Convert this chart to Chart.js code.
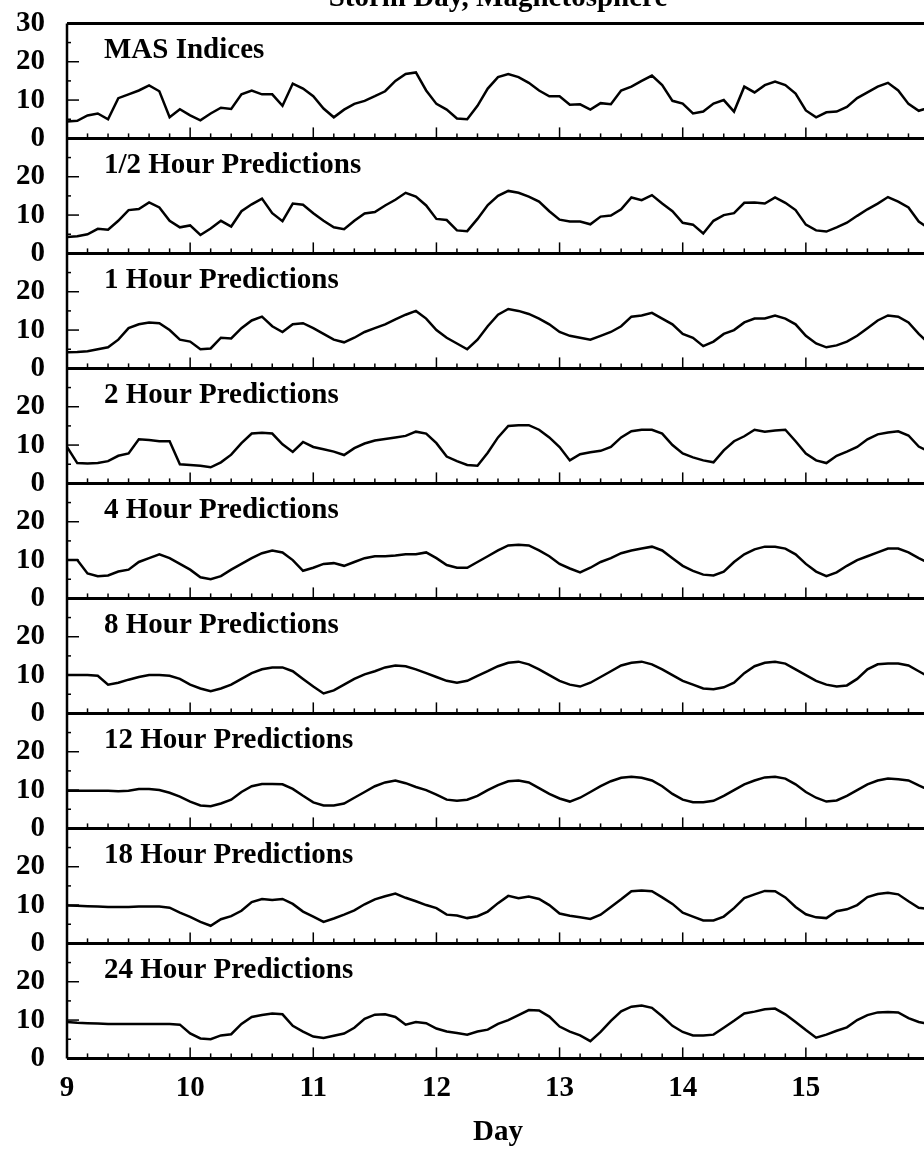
<!DOCTYPE html>
<html>
<head>
<meta charset="utf-8">
<script src="https://cdn.jsdelivr.net/npm/chart.js@4.4.1/dist/chart.umd.min.js"></script>
<style>
  html, body { margin: 0; padding: 0; background: #fff; overflow: hidden; }
  canvas { display: block; margin-top: -16px; }
</style>
</head>
<body>
<canvas id="chart" width="942" height="1167"></canvas>
<script>
// sampling grid: one reading every 2 hours from day 9 to day 16
const days = Array.from({ length: 85 }, (_, i) => 9 + i / 12);

const titleText = 'Storm Day, Magnetosphere';

const panelNames = [
  'MAS Indices', '1/2 Hour Predictions', '1 Hour Predictions', '2 Hour Predictions',
  '4 Hour Predictions', '8 Hour Predictions', '12 Hour Predictions',
  '18 Hour Predictions', '24 Hour Predictions'
];

const yTicksTop = [0, 10, 20, 30];
const yTicks = [0, 10, 20];

const mas = [
  4.4, 4.6, 6.0, 6.5, 5.0, 10.5, 11.5, 12.5, 13.8, 12.3,
  5.5, 7.6, 6.0, 4.7, 6.5, 8.0, 7.7, 11.5, 12.5, 11.5,
  11.5, 8.5, 14.3, 13.0, 11.0, 7.8, 5.5, 7.5, 9.0, 9.8,
  11.0, 12.3, 15.0, 16.8, 17.2, 12.5, 9.0, 7.5, 5.2, 5.0,
  8.5, 13.0, 16.0, 16.8, 16.0, 14.5, 12.5, 11.0, 11.0, 8.8,
  8.9, 7.5, 9.2, 8.9, 12.5, 13.5, 15.0, 16.4, 13.9, 9.8,
  9.1, 6.5, 7.0, 9.1, 10.0, 7.0, 13.5, 12.0, 13.9, 14.8,
  13.9, 11.7, 7.3, 5.5, 6.8, 7.0, 8.2, 10.5, 12.0, 13.5,
  14.5, 12.5, 9.0, 7.2, 8.0
];
const pred05 = [
  4.3, 4.5, 5.0, 6.4, 6.2, 8.5, 11.3, 11.6, 13.3, 12.0,
  8.5, 6.8, 7.3, 4.8, 6.5, 8.5, 7.0, 11.0, 12.8, 14.3,
  10.5, 8.4, 13.0, 12.7, 10.5, 8.5, 6.8, 6.3, 8.5, 10.4,
  10.8, 12.5, 14.0, 15.8, 14.8, 12.5, 9.0, 8.7, 6.0, 5.8,
  9.0, 12.6, 15.0, 16.3, 15.8, 14.8, 13.5, 11.0, 8.8, 8.3,
  8.3, 7.6, 9.6, 9.9, 11.5, 14.6, 13.9, 15.2, 13.0, 11.0,
  8.0, 7.5, 5.2, 8.5, 10.0, 10.5, 13.2, 13.3, 13.0, 14.6,
  13.2, 11.3, 7.5, 6.0, 5.7, 6.8, 8.0, 9.8, 11.5, 13.0,
  14.7, 13.5, 12.0, 8.3, 6.5
];
const pred1 = [
  4.2, 4.3, 4.5, 5.0, 5.5, 7.5, 10.5, 11.5, 12.0, 11.8,
  10.0, 7.5, 7.0, 5.0, 5.2, 8.0, 7.8, 10.5, 12.5, 13.5,
  11.0, 9.5, 11.5, 11.8, 10.5, 9.0, 7.5, 6.8, 8.0, 9.5,
  10.5, 11.5, 12.8, 14.0, 15.0, 13.0, 10.0, 8.0, 6.5, 5.0,
  7.5, 11.0, 14.0, 15.5, 15.0, 14.2, 13.0, 11.5, 9.5, 8.5,
  8.0, 7.5, 8.5, 9.5, 11.0, 13.5, 13.8, 14.5, 13.0, 11.5,
  9.0, 8.0, 5.8, 7.0, 9.0, 10.0, 12.0, 13.0, 13.0, 13.8,
  13.0, 11.5, 8.5, 6.5, 5.5, 6.0, 7.0, 8.5, 10.5, 12.5,
  13.8, 13.5, 12.0, 9.0, 6.5
];
const pred2 = [
  9.5, 5.3, 5.2, 5.3, 5.8, 7.2, 7.8, 11.5, 11.3, 11.0,
  11.0, 5.0, 4.8, 4.6, 4.2, 5.5, 7.5, 10.5, 13.0, 13.2,
  13.0, 10.2, 8.2, 10.8, 9.5, 8.9, 8.3, 7.4, 9.2, 10.4,
  11.2, 11.6, 12.0, 12.4, 13.5, 13.0, 10.5, 7.0, 5.8, 4.8,
  4.6, 8.0, 12.0, 15.0, 15.2, 15.2, 14.0, 12.0, 9.5, 6.0,
  7.6, 8.1, 8.5, 9.5, 12.0, 13.6, 14.0, 14.0, 13.0, 10.0,
  7.8, 6.8, 6.0, 5.5, 8.6, 11.0, 12.3, 14.0, 13.5, 13.8,
  14.0, 11.0, 7.8, 6.0, 5.3, 7.2, 8.3, 9.5, 11.5, 12.8,
  13.3, 13.6, 12.5, 9.6, 8.3
];
const pred4 = [
  10.0, 10.0, 6.5, 5.8, 6.0, 7.0, 7.5, 9.5, 10.5, 11.5,
  10.5, 9.0, 7.5, 5.5, 5.0, 5.8, 7.5, 9.0, 10.5, 11.8,
  12.5, 12.0, 10.0, 7.2, 8.0, 9.0, 9.2, 8.5, 9.5, 10.5,
  11.0, 11.0, 11.2, 11.5, 11.5, 12.0, 10.5, 8.7, 8.0, 8.0,
  9.5, 11.0, 12.5, 13.8, 14.0, 13.8, 12.5, 11.0, 9.0, 7.8,
  6.8, 8.0, 9.5, 10.5, 11.8, 12.5, 13.0, 13.5, 12.5, 10.5,
  8.5, 7.2, 6.2, 6.0, 7.0, 9.5, 11.5, 12.8, 13.5, 13.5,
  13.0, 11.5, 9.0, 7.0, 5.8, 6.8, 8.5, 10.0, 11.0, 12.0,
  13.0, 13.0, 12.0, 10.5, 9.2
];
const pred8 = [
  10.0, 10.0, 10.0, 9.8, 7.5, 8.0, 8.8, 9.5, 10.0, 10.0,
  9.8, 9.0, 7.5, 6.5, 5.8, 6.5, 7.5, 9.0, 10.5, 11.5,
  12.0, 12.0, 11.0, 9.0, 7.0, 5.2, 6.0, 7.5, 9.0, 10.2,
  11.0, 12.0, 12.5, 12.3, 11.5, 10.5, 9.5, 8.5, 8.0, 8.5,
  9.8, 11.0, 12.3, 13.2, 13.5, 12.8, 11.5, 10.0, 8.5, 7.5,
  7.0, 8.0, 9.5, 11.0, 12.5, 13.2, 13.5, 12.8, 11.5, 10.0,
  8.5, 7.5, 6.5, 6.3, 6.8, 8.0, 10.5, 12.3, 13.2, 13.5,
  13.0, 11.5, 10.0, 8.5, 7.5, 7.0, 7.3, 9.0, 11.5, 12.8,
  13.0, 13.0, 12.5, 11.0, 9.5
];
const pred12 = [
  9.8, 9.8, 9.8, 9.8, 9.8, 9.7, 9.8, 10.3, 10.3, 10.0,
  9.3, 8.3, 7.0, 6.0, 5.8, 6.5, 7.5, 9.5, 11.0, 11.6,
  11.6, 11.5, 10.3, 8.5, 6.8, 6.0, 6.0, 6.5, 8.0, 9.5,
  11.0, 12.0, 12.5, 11.8, 10.8, 10.0, 8.8, 7.5, 7.2, 7.5,
  8.5, 10.0, 11.3, 12.3, 12.5, 12.0, 10.5, 9.0, 7.8, 7.0,
  8.0, 9.5, 11.0, 12.3, 13.2, 13.5, 13.2, 12.5, 11.0, 9.0,
  7.5, 6.8, 6.8, 7.2, 8.5, 10.0, 11.5, 12.5, 13.3, 13.5,
  13.0, 11.5, 9.5, 8.0, 7.0, 7.3, 8.5, 10.0, 11.5, 12.5,
  13.0, 12.8, 12.5, 11.2, 10.0
];
const pred18 = [
  9.9, 9.8, 9.7, 9.6, 9.5, 9.5, 9.5, 9.6, 9.6, 9.6,
  9.3, 8.0, 6.9, 5.6, 4.6, 6.3, 7.1, 8.5, 10.8, 11.6,
  11.3, 11.6, 10.3, 8.3, 7.0, 5.6, 6.5, 7.5, 8.6, 10.2,
  11.5, 12.3, 13.0, 11.9, 11.0, 10.0, 9.2, 7.5, 7.3, 6.6,
  7.1, 8.3, 10.5, 12.4, 11.8, 12.2, 11.6, 10.0, 7.8, 7.2,
  6.8, 6.4, 7.5, 9.5, 11.5, 13.6, 13.8, 13.6, 12.0, 10.3,
  8.0, 7.0, 6.0, 6.0, 7.0, 9.2, 11.8, 12.8, 13.7, 13.6,
  12.0, 9.5, 7.6, 6.8, 6.6, 8.4, 8.9, 10.0, 12.1, 12.9,
  13.2, 12.8, 11.0, 9.3, 9.0
];
const pred24 = [
  9.5, 9.3, 9.2, 9.1, 9.0, 9.0, 9.0, 9.0, 9.0, 9.0,
  9.0, 8.8, 6.5, 5.2, 5.0, 6.0, 6.3, 9.0, 10.8, 11.3,
  11.7, 11.5, 8.5, 7.0, 5.7, 5.3, 5.9, 6.5, 8.0, 10.3,
  11.4, 11.5, 10.8, 8.8, 9.5, 9.2, 7.8, 7.0, 6.6, 6.2,
  7.0, 7.5, 9.0, 10.0, 11.3, 12.6, 12.5, 10.9, 8.3, 7.0,
  6.0, 4.5, 6.9, 9.8, 12.3, 13.5, 13.8, 13.2, 11.0, 8.5,
  6.9, 6.0, 6.0, 6.2, 8.0, 9.8, 11.7, 12.2, 12.8, 13.0,
  11.5, 9.5, 7.4, 5.4, 6.2, 7.2, 8.1, 10.0, 11.3, 12.0,
  12.1, 12.0, 10.5, 9.5, 9.0
];

const series = [mas, pred05, pred1, pred2, pred4, pred8, pred12, pred18, pred24];

const serif = '"Liberation Serif", "Times New Roman", serif';
const labelFont = { family: serif, size: 29, weight: 'bold' };

// inward ticks, panel frames, panel captions and the (cropped) title
const framePlugin = {
  id: 'frame',
  afterDraw(chart) {
    const { ctx, chartArea: area } = chart;
    const xs = chart.scales.x;
    const seg = (x1, y1, x2, y2) => {
      ctx.beginPath();
      ctx.moveTo(x1, y1);
      ctx.lineTo(x2, y2);
      ctx.stroke();
    };
    ctx.save();
    ctx.strokeStyle = '#000';
    ctx.fillStyle = '#000';
    ctx.lineCap = 'butt';

    ctx.lineWidth = 2.5;
    seg(area.left, area.top, area.left, area.bottom);

    panelNames.forEach((name, i) => {
      const ys = chart.scales['p' + i];
      const y0 = ys.getPixelForValue(0);
      ctx.lineWidth = 3;
      seg(area.left, y0, area.right, y0);
      if (i === 0) {
        const yt = ys.getPixelForValue(30);
        seg(area.left, yt, area.right, yt);
      }
      // day ticks (major) and 4-hour ticks (minor)
      ctx.lineWidth = 1.5;
      for (let h = 1; h <= 42; h++) {
        const x = xs.getPixelForValue(9 + h / 6);
        const len = h % 6 === 0 ? 11 : 5;
        seg(x, y0, x, y0 - len);
      }
      // value ticks
      [5, 10, 15, 20, 25].forEach(v => {
        const y = ys.getPixelForValue(v);
        const len = v % 10 === 0 ? 12 : 4;
        seg(area.left, y, area.left + len, y);
      });
      ctx.font = 'bold 29px ' + serif;
      ctx.textAlign = 'left';
      ctx.textBaseline = 'middle';
      ctx.fillText(name, area.left + 37, ys.getPixelForValue(22.8));
    });

    ctx.font = 'bold 29px ' + serif;
    ctx.textAlign = 'center';
    ctx.textBaseline = 'alphabetic';
    ctx.fillText(titleText, (area.left + area.right) / 2, area.top - 17);
    ctx.restore();
  }
};

const scales = {
  x: {
    type: 'linear',
    min: 9,
    max: 16,
    grid: { display: false, drawTicks: false },
    border: { display: false },
    ticks: {
      stepSize: 1,
      padding: 13,
      color: '#000',
      font: labelFont,
      callback: v => (v < 16 ? v : '')
    },
    title: {
      display: true,
      text: 'Day',
      color: '#000',
      font: labelFont,
      padding: { top: -4, bottom: 1 }
    }
  }
};

// last listed stacked axis is placed on top, so add the panels bottom-up
for (let i = panelNames.length - 1; i >= 0; i--) {
  const tickList = i === 0 ? yTicksTop : yTicks;
  scales['p' + i] = {
    type: 'linear',
    position: 'left',
    stack: 'panels',
    stackWeight: 1,
    min: 0,
    max: 30,
    grid: { display: false, drawTicks: false },
    border: { display: false },
    afterBuildTicks: s => { s.ticks = tickList.map(v => ({ value: v })); },
    afterFit: s => { s.width = 67; },
    ticks: { autoSkip: false, padding: 22, color: '#000', font: labelFont }
  };
}

new Chart(document.getElementById('chart'), {
  type: 'line',
  data: {
    datasets: series.map((vals, i) => ({
      label: panelNames[i],
      data: vals.map((v, k) => ({ x: days[k], y: v })),
      yAxisID: 'p' + i,
      borderColor: '#000',
      borderWidth: 2.5,
      pointRadius: 0,
      tension: 0
    }))
  },
  options: {
    responsive: false,
    animation: false,
    layout: { padding: { top: 5, right: 2, bottom: 0, left: 0 } },
    plugins: { legend: { display: false }, tooltip: { enabled: false } },
    scales: scales
  },
  plugins: [framePlugin]
});
</script>
</body>
</html>
